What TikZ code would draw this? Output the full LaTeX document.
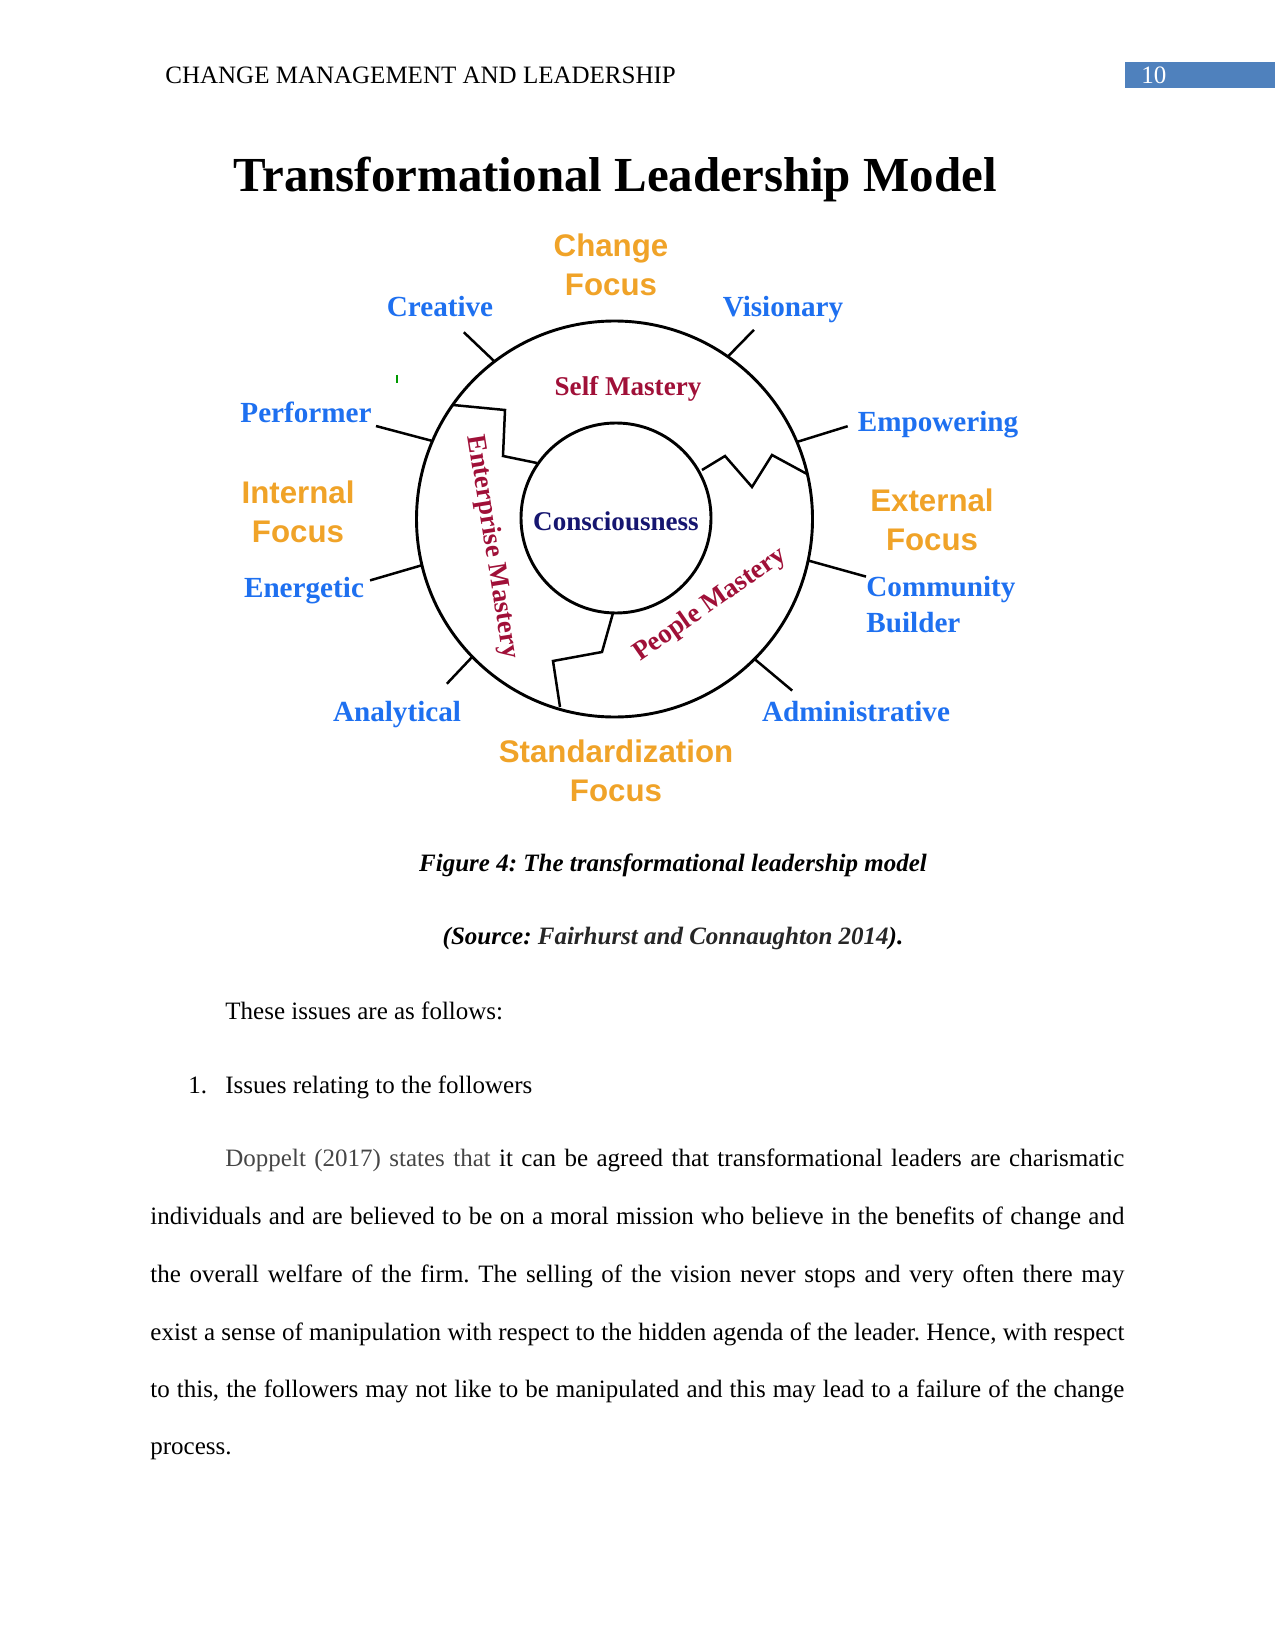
\documentclass[tikz,border=0pt]{standalone}
\usepackage{fontspec}
\setmainfont{Liberation Serif}
\newfontfamily\labelsans{Liberation Sans}
\usepackage{xcolor}
\usepackage{tikz}
\usetikzlibrary{calc}
\frenchspacing

\definecolor{traitblue}{RGB}{30,112,240}
\definecolor{focusorange}{RGB}{240,163,40}
\definecolor{masteryred}{RGB}{160,16,56}
\definecolor{corenavy}{RGB}{22,22,112}
\definecolor{pagebox}{RGB}{79,129,189}
\definecolor{bodygrey}{RGB}{70,70,70}

\begin{document}
\begin{tikzpicture}[
  x=0.48pt, y=-0.48pt,
  trait/.style={text=traitblue, font=\fontsize{14}{17}\selectfont\bfseries, inner sep=0pt, anchor=base},
  focus/.style={text=focusorange, font=\labelsans\fontsize{15}{18.7}\selectfont\bfseries, align=center, inner sep=0pt},
  mast/.style={text=masteryred, font=\fontsize{13}{15}\selectfont\bfseries, inner sep=0pt},
  ring/.style={line width=1.4pt},
  tick/.style={line width=1.2pt},
  body/.style={font=\fontsize{12}{14}\selectfont, inner sep=0pt, anchor=base west}
]
\fill[white] (0,0) rectangle (1275,1650);
\useasboundingbox (0,0) rectangle (1275,1650);

% running head
\node[body] (head) at (165,84) {CHANGE MANAGEMENT AND LEADERSHIP};
\fill[pagebox] (1125,62) rectangle (1275,88);
\node[body, text=white] (pageno) at (1141,84) {10};

% title
\node[inner sep=0pt, anchor=base, font=\fontsize{23.5}{28}\selectfont\bfseries] (title) at (615,192) {Transformational Leadership Model};

% circles
\coordinate (c) at (614.5,519);
\coordinate (ci) at (616,518);
\draw[ring] (c) circle[radius=198];
\draw[ring] (ci) circle[radius=95];

% ticks round the outer circle
\foreach \ai/\ao/\ro in {-127.3/-128.9/240, -55.1/-53.6/235, -156.8/-158.7/256, -22.9/-21.7/251,
                        -193.5/-194.1/252, 12.1/12.9/258, -224.1/-224.5/235, 45/44/247}
  \draw[tick] ($(c)+(\ai:198)$) -- ($(c)+(\ao:\ro)$);

% borders between the masteries
\draw[tick] (453,405) -- (505,410) -- (503,456) -- (537,463);
\draw[tick] (613,613) -- (602,652) -- (553,661) -- (560,707);
\draw[tick] (702,470) -- (725,456) -- (752,487) -- (772,455) -- (807,474);
\draw[green!60!black, line width=0.8pt] (397,375) -- (397,383);

% inside the rings
\node[mast, anchor=base] (self) at (628,396) {Self Mastery};
\node[inner sep=0pt, text=corenavy, font=\fontsize{13}{15}\selectfont\bfseries] (core) at (616,521) {Consciousness};
\node[mast, rotate=-81] (enter) at (492,547) {Enterprise Mastery};
\node[mast, rotate=35] (people) at (710,605) {People Mastery};

% traits
\node[trait] (creative) at (440,317) {Creative};
\node[trait] (visionary) at (783,317) {Visionary};
\node[trait] (performer) at (306,423) {Performer};
\node[trait] (empower) at (938,432) {Empowering};
\node[trait] (energetic) at (304,597) {Energetic};
\node[trait] (analytic) at (397,721) {Analytical};
\node[trait] (admin) at (856,721) {Administrative};
\node[trait, anchor=west, align=left, font=\fontsize{14}{17.3}\selectfont\bfseries] (builder) at (866,605) {Community\\Builder};

% focus labels
\node[focus] (change) at (611,264.5) {Change\\Focus};
\node[focus] (internal) at (298,511.5) {Internal\\Focus};
\node[focus] (external) at (932,520) {External\\Focus};
\node[focus] (standard) at (616,771) {Standardization\\Focus};

% caption
\node[body, anchor=base, font=\fontsize{12}{14}\selectfont\bfseries\itshape] (cap) at (673,871) {Figure 4: The transformational leadership model};
\node[body, anchor=base, font=\fontsize{12}{14}\selectfont\bfseries\itshape] (src) at (673,944) {(Source: {\color{black!85}Fairhurst and Connaughton 2014}).};

% body text
\node[body] (intro) at (225,1019) {These issues are as follows:};
\node[body] (num) at (188,1093) {1.};
\node[body] (item) at (225,1093) {Issues relating to the followers};
\node[body] (l1) at (225,1166) {\makebox[431.5pt][s]{{\color{bodygrey}Doppelt (2017) states that} it can be agreed that transformational leaders are charismatic}};
\node[body] (l2) at (150,1224) {\makebox[467.5pt][s]{individuals and are believed to be on a moral mission who believe in the benefits of change and}};
\node[body] (l3) at (150,1282) {\makebox[467.5pt][s]{the overall welfare of the firm. The selling of the vision never stops and very often there may}};
\node[body] (l4) at (150,1340) {\makebox[467.5pt][s]{exist a sense of manipulation with respect to the hidden agenda of the leader. Hence, with respect}};
\node[body] (l5) at (150,1397) {\makebox[467.5pt][s]{to this, the followers may not like to be manipulated and this may lead to a failure of the change}};
\node[body] (l6) at (150,1454) {process.};
\end{tikzpicture}
\end{document}
